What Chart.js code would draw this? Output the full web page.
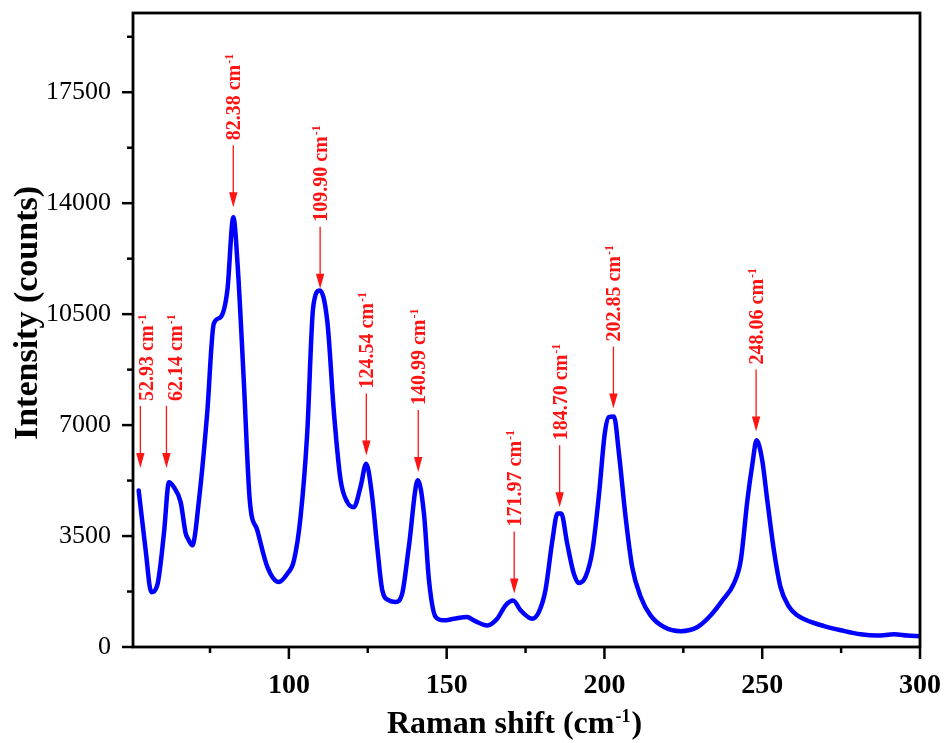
<!DOCTYPE html>
<html>
<head>
<meta charset="utf-8">
<script src="https://cdn.jsdelivr.net/npm/chart.js@4.4.1/dist/chart.umd.min.js"></script>
<style>
html,body{margin:0;padding:0;background:#fff;}
#wrap{width:950px;height:743px;}
canvas{display:block;}
</style>
</head>
<body>
<div id="wrap"><canvas id="c" width="950" height="743"></canvas></div>
<script>
// ---- data ----
const ramanShift = [52.4, 54.6, 56.4, 58.3, 60.4, 62.0, 63.5, 65.7, 67.3, 68.0, 69.4, 71.5, 74.1, 76.2, 78.3, 80.5, 82.4, 83.8, 85.7, 87.6, 90.0, 93.2, 96.8, 99.5, 101.6, 103.7, 105.8, 107.7, 109.8, 112.2, 114.3, 116.4, 118.5, 120.6, 122.7, 124.5, 126.4, 128.0, 129.6, 131.7, 133.8, 135.9, 138.0, 140.9, 142.8, 144.4, 146.5, 149.1, 152.3, 156.5, 158.6, 162.9, 166.0, 168.7, 171.1, 173.4, 177.1, 179.2, 181.3, 183.5, 185.1, 186.3, 188.2, 190.3, 191.9, 194.0, 196.2, 198.3, 200.1, 201.4, 203.0, 204.6, 206.7, 208.8, 211.5, 214.6, 218.9, 224.2, 229.5, 233.7, 237.4, 241.0, 243.2, 245.3, 246.9, 248.2, 250.0, 251.6, 253.7, 255.8, 258.3, 261.1, 265.4, 269.6, 274.9, 281.2, 286.5, 291.8, 296.0, 300];
const intensity = [4940, 3060, 1730, 1950, 3580, 5200, 5050, 4570, 3580, 3420, 3210, 4630, 7360, 10200, 10400, 11250, 13560, 11980, 8410, 4630, 3680, 2520, 2050, 2310, 2730, 4100, 6730, 10720, 11250, 10250, 7360, 5260, 4570, 4410, 5050, 5780, 4730, 3150, 1790, 1470, 1420, 1680, 3150, 5260, 4210, 2100, 950, 840, 890, 950, 840, 680, 890, 1320, 1470, 1160, 890, 1100, 1790, 3360, 4210, 4210, 3260, 2310, 2020, 2210, 3050, 4840, 6730, 7250, 7270, 6100, 4100, 2520, 1580, 1000, 630, 500, 630, 1000, 1470, 2000, 2730, 4630, 5780, 6520, 5890, 4630, 3050, 1890, 1300, 1000, 790, 660, 530, 400, 360, 400, 360, 340];

const xLabeledTicks = [100, 150, 200, 250, 300];
const xMinorTicks = [75, 125, 175, 225, 275];
const yLabeledTicks = [0, 3500, 7000, 10500, 14000, 17500];
const yMinorTicks = [1750, 5250, 8750, 12250, 15750, 19250];

const peakLabels = ['52.93', '62.14', '82.38', '109.90', '124.54', '140.99', '171.97', '184.70', '202.85', '248.06'];
const arrowAt = [52.93, 61.2, 82.38, 109.9, 124.54, 140.99, 171.4, 185.8, 202.85, 248.06];
const arrowTip = [5650, 5650, 13870, 11300, 6040, 5520, 1690, 4410, 7520, 6800];

const xAxisTitle = 'Raman shift (cm';
const xAxisTitleSup = '-1';
const yAxisTitle = 'Intensity (counts)';

// ---- chart ----
const SERIF = '"Liberation Serif", "Times New Roman", serif';
const points = ramanShift.map((x, i) => ({x: x, y: intensity[i]}));
const xAllTicks = xLabeledTicks.concat(xMinorTicks).sort((a, b) => a - b);
const yAllTicks = yLabeledTicks.concat(yMinorTicks).sort((a, b) => a - b);

function zeroPad(s) { s.paddingTop = 0; s.paddingBottom = 0; s.paddingLeft = 0; s.paddingRight = 0; }

const framePlugin = {
  id: 'frame',
  afterDraw(chart) {
    const ctx = chart.ctx, a = chart.chartArea;
    const xs = chart.scales.x, ys = chart.scales.y;
    ctx.save();
    ctx.strokeStyle = '#000';
    ctx.lineWidth = 2.5;
    xAllTicks.forEach(v => {
      const px = xs.getPixelForValue(v);
      const len = xLabeledTicks.includes(v) ? 12 : 6;
      ctx.beginPath(); ctx.moveTo(px, a.bottom); ctx.lineTo(px, a.bottom + len); ctx.stroke();
    });
    yAllTicks.forEach(v => {
      const py = ys.getPixelForValue(v);
      const len = yLabeledTicks.includes(v) ? 11 : 6;
      ctx.beginPath(); ctx.moveTo(a.left, py); ctx.lineTo(a.left - len, py); ctx.stroke();
    });
    ctx.lineWidth = 2.8;
    ctx.strokeRect(a.left, a.top, a.right - a.left, a.bottom - a.top);

    ctx.fillStyle = '#000';
    ctx.textBaseline = 'alphabetic';
    ctx.font = 'bold 32px ' + SERIF;
    const w1 = ctx.measureText(xAxisTitle).width;
    ctx.font = 'bold 18px ' + SERIF;
    const w2 = ctx.measureText(xAxisTitleSup).width;
    ctx.font = 'bold 32px ' + SERIF;
    const w3 = ctx.measureText(')').width;
    const total = w1 + w2 + w3 + 2;
    const sx = (a.left + a.right) / 2 - 12 - total / 2;
    const by = 733;
    ctx.textAlign = 'left';
    ctx.fillText(xAxisTitle, sx, by);
    ctx.font = 'bold 18px ' + SERIF;
    ctx.fillText(xAxisTitleSup, sx + w1 + 1, by - 11);
    ctx.font = 'bold 32px ' + SERIF;
    ctx.fillText(')', sx + w1 + w2 + 2, by);

    ctx.save();
    ctx.translate(37, (a.top + a.bottom) / 2 - 17);
    ctx.rotate(-Math.PI / 2);
    ctx.textAlign = 'center';
    ctx.font = 'bold 34px ' + SERIF;
    ctx.fillText(yAxisTitle, 0, 0);
    ctx.restore();
    ctx.restore();
  }
};

const peakPlugin = {
  id: 'peaks',
  afterDatasetsDraw(chart) {
    const ctx = chart.ctx;
    const xs = chart.scales.x, ys = chart.scales.y;
    const textShift = {0: 6, 1: 9};
    ctx.save();
    ctx.strokeStyle = '#ff1414';
    ctx.fillStyle = '#ff1414';
    peakLabels.forEach((lab, i) => {
      const x = xs.getPixelForValue(arrowAt[i]);
      const tip = ys.getPixelForValue(arrowTip[i]);
      ctx.lineWidth = 1.3;
      ctx.beginPath(); ctx.moveTo(x, tip - 62); ctx.lineTo(x, tip - 13); ctx.stroke();
      ctx.beginPath(); ctx.moveTo(x, tip); ctx.lineTo(x - 4.2, tip - 15); ctx.lineTo(x + 4.2, tip - 15); ctx.closePath(); ctx.fill();
      ctx.save();
      ctx.translate(x + (textShift[i] || 0), tip - 67);
      ctx.rotate(-Math.PI / 2);
      ctx.textAlign = 'left';
      ctx.textBaseline = 'alphabetic';
      ctx.font = 'bold 20px ' + SERIF;
      const main = lab + ' cm';
      ctx.fillText(main, 0, 7);
      const w = ctx.measureText(main).width;
      ctx.font = 'bold 12px ' + SERIF;
      ctx.fillText('-1', w + 1, 0);
      ctx.restore();
    });
    ctx.restore();
  }
};

new Chart(document.getElementById('c'), {
  type: 'line',
  data: {
    datasets: [{
      data: points,
      borderColor: '#0000ff',
      borderWidth: 4.5,
      pointRadius: 0,
      fill: false,
      cubicInterpolationMode: 'monotone',
      borderJoinStyle: 'round',
      borderCapStyle: 'round'
    }]
  },
  options: {
    responsive: false,
    animation: false,
    devicePixelRatio: 1,
    layout: {padding: {left: 0, right: 30, top: 13, bottom: 0}},
    plugins: {legend: {display: false}, tooltip: {enabled: false}},
    scales: {
      x: {
        type: 'linear',
        min: 50.6,
        max: 300,
        afterBuildTicks: s => { s.ticks = xAllTicks.map(v => ({value: v})); },
        afterFit: s => { s.height = 96; zeroPad(s); },
        grid: {display: false, drawTicks: false},
        border: {display: false},
        ticks: {
          callback: v => xLabeledTicks.includes(v) ? String(v) : '',
          font: {family: SERIF, size: 28, weight: 'bold'},
          color: '#000',
          padding: 22,
          maxRotation: 0,
          autoSkip: false
        }
      },
      y: {
        type: 'linear',
        min: 0,
        max: 20000,
        afterBuildTicks: s => { s.ticks = yAllTicks.map(v => ({value: v})); },
        afterFit: s => { s.width = 133; zeroPad(s); },
        grid: {display: false, drawTicks: false},
        border: {display: false},
        ticks: {
          callback: v => yLabeledTicks.includes(v) ? String(v) : '',
          font: {family: SERIF, size: 26},
          color: '#000',
          padding: 22,
          autoSkip: false
        }
      }
    }
  },
  plugins: [peakPlugin, framePlugin]
});
</script>
</body>
</html>
